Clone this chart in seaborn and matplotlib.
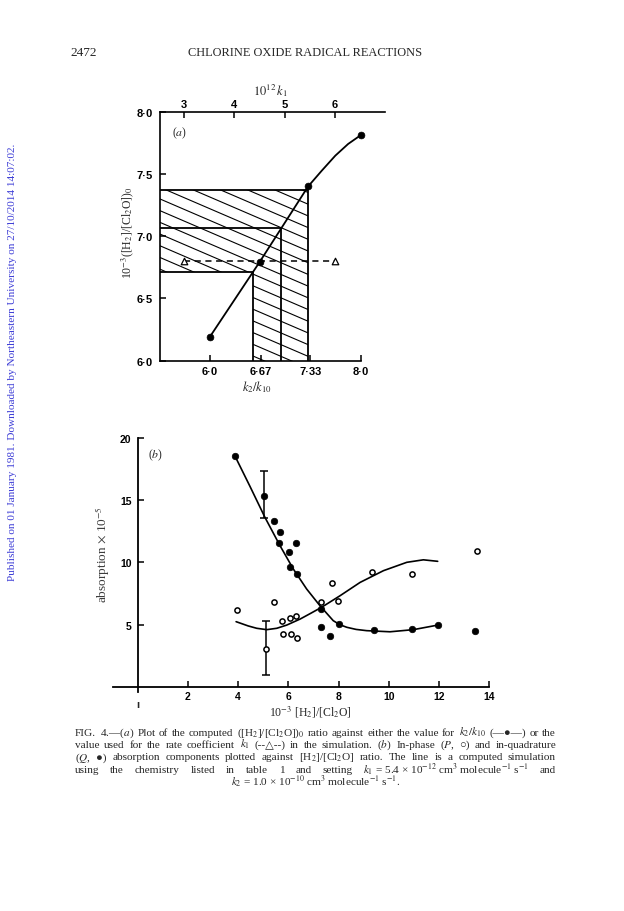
"""
Fig. 4 of the chlorine oxide radical reactions paper, redrawn with seaborn.
"""

import numpy as np
import pandas as pd
import matplotlib
matplotlib.use('Agg')
import matplotlib.pyplot as plt
from matplotlib.patches import Polygon
import seaborn as sns

# (a) computed ([H2]/[Cl2O])0 ratio against k2/k10, k1 on the top scale
k2k10 = [6.0, 6.66, 7.30, 8.0]
ratio = [6.193, 6.795, 7.40, 7.813]
curve_a_x = [6.0, 6.66, 7.30, 7.48, 7.66, 7.83, 8.0]
curve_a_y = [6.193, 6.795, 7.40, 7.526, 7.647, 7.741, 7.813]
k1_used = [3.0, 6.0]
ratio_k1 = [6.80, 6.80]
box_x = [6.572, 6.945, 7.30]
box_y = [6.715, 7.063, 7.373]

xticks_a = [6.0, 6.67, 7.33, 8.0]
xticklabels_a = ['6·0', '6·67', '7·33', '8·0']
yticks_a = [6.0, 6.5, 7.0, 7.5, 8.0]
yticklabels_a = ['6·0', '6·5', '7·0', '7·5', '8·0']
k1_ticks = [3, 4, 5, 6]

# (b) in-quadrature (Q, filled) and in-phase (P, open) absorption
q_x = [3.88, 5.05, 5.44, 5.67, 5.62, 6.29, 6.04, 6.07, 6.36, 7.30, 7.31, 7.66,
       8.02, 9.41, 10.94, 11.95, 13.43]
q_y = [18.5, 15.34, 13.34, 12.46, 11.55, 11.52, 10.8, 9.65, 9.09, 6.25, 4.84, 4.06,
       5.05, 4.57, 4.63, 4.97, 4.49]
p_x = [3.94, 5.44, 5.74, 6.07, 6.30, 5.78, 6.09, 6.36, 5.11, 7.31, 7.73, 7.97,
       9.32, 10.94, 13.5]
p_y = [6.15, 6.79, 5.29, 5.51, 5.72, 4.25, 4.22, 3.93, 3.05, 6.79, 8.34, 6.87,
       9.22, 9.09, 10.9]

# computed simulation lines
qsim_x = [3.88, 4.47, 5.07, 5.67, 6.2, 6.73, 7.26, 7.79, 8.05, 8.33, 8.7, 9.12,
          10.05, 10.98, 11.91]
qsim_y = [18.5, 16.1, 13.6, 11.33, 9.46, 7.86, 6.52, 5.32, 5.0, 4.79, 4.62, 4.52,
          4.43, 4.6, 4.95]
psim_x = [3.92, 4.4, 4.74, 5.14, 5.54, 5.94, 6.47, 6.9, 7.33, 8.06, 8.86, 9.79,
          10.72, 11.38, 11.95]
psim_y = [5.24, 4.9, 4.71, 4.60, 4.71, 4.97, 5.45, 5.92, 6.4, 7.32, 8.39, 9.33,
          10.0, 10.2, 10.08]

err_x = [5.05, 5.11]
err_y = [15.34, 3.05]
err_lo = [1.81, 2.06]
err_hi = [2.01, 2.27]

xticks_b = [2, 4, 6, 8, 10, 12, 14]
yticks_b = [5, 10, 15, 20]

W, H = 624, 912


def px(x, y):
    """pixel position on the page -> figure fraction"""
    return x / W, 1 - y / H


def x_to_k1(x):
    return 3.517 + 1.5 * (np.asarray(x) - 6.0)


def k1_to_x(k):
    return 6.0 + (np.asarray(k) - 3.517) / 1.5


sns.set_theme(style='ticks')
plt.rcParams['font.family'] = ['Liberation Serif', 'DejaVu Sans']
plt.rcParams['mathtext.fontset'] = 'stix'
plt.rcParams['axes.linewidth'] = 1.2

tickfont = dict(fontfamily='Liberation Sans', fontweight='bold', fontsize=8)

fig = plt.figure(figsize=(W / 100, H / 100), dpi=100)
fig.patch.set_facecolor('white')

# ---------------- panel (a) ----------------
ax_a = fig.add_axes([160 / W, 1 - 361.7 / H, 225 / W, 249 / H])
ax_a.set_facecolor('white')
ax_a.set_xlim(5.338, 8.318)
ax_a.set_ylim(6.0, 8.0)
ax_a.spines['right'].set_visible(False)
ax_a.spines['top'].set_visible(False)
ax_a.spines['bottom'].set_bounds(5.338, 8.0)
for s in ax_a.spines.values():
    s.set_color('black')

# hatched L-shaped region
x0 = ax_a.get_xlim()[0]
hatch_poly = Polygon([(x0, box_y[0]), (x0, box_y[2]), (box_x[2], box_y[2]),
                      (box_x[2], 6.0), (box_x[0], 6.0), (box_x[0], box_y[0])],
                     closed=True, facecolor='none', edgecolor='none')
ax_a.add_patch(hatch_poly)
hx = np.array([x0, 8.318])
slope = -0.261
for c in np.arange(7.299 - 20 * 0.094, 7.299 + 40 * 0.094, 0.094):
    ln, = ax_a.plot(hx, c + slope * (hx - x0), color='black', lw=0.8)
    ln.set_clip_path(hatch_poly)

# rectangle outlines
for bx, by in zip(box_x, box_y):
    ax_a.plot([x0, bx, bx], [by, by, 6.0], color='black', lw=1.3,
              solid_joinstyle='miter')

sns.lineplot(x=curve_a_x, y=curve_a_y, ax=ax_a, color='black', linewidth=1.3,
             estimator=None, sort=False)
sns.scatterplot(x=k2k10, y=ratio, ax=ax_a, color='black', s=24,
                edgecolor='black', linewidth=0.5, zorder=4)

k1_pos = k1_to_x(k1_used)
ax_a.plot(k1_pos, ratio_k1, color='black', lw=1.1, ls=(0, (4, 3)))
sns.scatterplot(x=k1_pos, y=ratio_k1, ax=ax_a, marker='^', s=22, color='white',
                edgecolor='black', linewidth=0.9, zorder=4)

ax_a.set_xticks(xticks_a, xticklabels_a, **tickfont)
ax_a.set_yticks(yticks_a, yticklabels_a, **tickfont)
ax_a.tick_params(axis='x', direction='in', length=4, width=1.1, pad=4, colors='black')
ax_a.tick_params(axis='y', direction='in', length=4, width=1.1, pad=5, colors='black')
ax_a.set_xlabel('')
ax_a.set_ylabel('')

secax = ax_a.secondary_xaxis('top', functions=(x_to_k1, k1_to_x))
secax.set_xticks(k1_ticks, [str(k) for k in k1_ticks], **tickfont)
secax.tick_params(direction='in', length=4, width=1.1, pad=2, colors='black')
secax.spines['top'].set_linewidth(1.2)
secax.spines['top'].set_color('black')

fig.text(*px(270, 91), r'$10^{12}\,k_1$', ha='center', va='center', fontsize=9)
fig.text(*px(180, 133), r'($a$)', ha='center', va='center', fontsize=8.5)
fig.text(*px(257, 387), r'$k_2/k_{10}$', ha='center', va='center', fontsize=9)
fig.text(*px(128, 233), r'10$^{-3}$([H$_2$]/[Cl$_2$O])$_0$', ha='center', va='center',
         rotation=90, fontsize=8.5)

# ---------------- panel (b) ----------------
ax_b = fig.add_axes([112.6 / W, 1 - 700.5 / H, 377.8 / W, 261.9 / H])
ax_b.set_facecolor('white')
ax_b.set_xlim(-1, 14.05)
ax_b.set_ylim(-1, 20)
ax_b.spines['right'].set_visible(False)
ax_b.spines['top'].set_visible(False)
ax_b.spines['left'].set_position(('data', 0))
ax_b.spines['bottom'].set_position(('data', 0))
ax_b.spines['left'].set_bounds(-0.4, 20)
ax_b.spines['bottom'].set_bounds(-1, 14)
for s in ax_b.spines.values():
    s.set_color('black')
    s.set_linewidth(1.3)

sim = pd.concat([pd.DataFrame({'x': qsim_x, 'y': qsim_y, 'comp': 'Q'}),
                 pd.DataFrame({'x': psim_x, 'y': psim_y, 'comp': 'P'})])
for comp, grp in sim.groupby('comp'):
    sns.lineplot(data=grp, x='x', y='y', ax=ax_b, color='black', linewidth=1.2,
                 estimator=None, sort=False)

ax_b.errorbar(err_x, err_y, yerr=[err_lo, err_hi], fmt='none', ecolor='black',
              elinewidth=1.1, capsize=3, capthick=1.1, zorder=2)
sns.scatterplot(x=q_x, y=q_y, ax=ax_b, color='black', s=22, edgecolor='black',
                linewidth=0.5, zorder=4)
sns.scatterplot(x=p_x, y=p_y, ax=ax_b, color='white', s=14, edgecolor='black',
                linewidth=1.1, zorder=4)

bfont = dict(tickfont, fontsize=7.5)
ax_b.set_xticks(xticks_b, [str(t) for t in xticks_b], **bfont)
ax_b.set_yticks(yticks_b, [str(t) for t in yticks_b], **bfont)
ax_b.tick_params(axis='x', direction='in', length=4, width=1.1, pad=2.5, colors='black')
ax_b.tick_params(axis='y', direction='in', length=4, width=1.1, pad=4.5, colors='black')
ax_b.set_xlabel('')
ax_b.set_ylabel('')

fig.text(*px(156, 455), r'($b$)', ha='center', va='center', fontsize=8.5)
fig.text(*px(137.7, 705), 'ı', ha='center', va='center', fontsize=8,
         fontfamily='Liberation Sans', fontweight='bold')
fig.text(*px(310, 712), r'10$^{-3}$ [H$_2$]/[Cl$_2$O]', ha='center', va='center',
         fontsize=8.5)
fig.text(*px(103, 555), r'absorption $\times$ 10$^{-5}$', ha='center', va='center',
         rotation=90, fontsize=9.5, color='#3c3c3c')

# ---------------- page furniture ----------------
fig.text(*px(70, 53), '2472', ha='left', va='center', fontsize=9.5)
fig.text(*px(305, 53), 'CHLORINE OXIDE RADICAL REACTIONS', ha='center', va='center',
         fontsize=8.9)
fig.text(*px(13, 362), 'Published on 01 January 1981. Downloaded by Northeastern '
         'University on 27/10/2014 14:07:02.', rotation=90, ha='center', va='center',
         fontsize=8.1, color='#3d3dd6')

caption = [
    "FIG. 4.—($a$) Plot of the computed ([H$_2$]/[Cl$_2$O])$_0$ ratio against either "
    "the value for $k_2/k_{10}$ (—●—) or the",
    "value used for the rate coefficient $k_1$ (--△--) in the simulation. ($b$) "
    "In-phase ($P$, ○) and in-quadrature",
    "($Q$, ●) absorption components plotted against [H$_2$]/[Cl$_2$O] ratio. "
    "The line is a computed simulation",
    "using the chemistry listed in table 1 and setting "
    "$k_1$~=~5.4~×~10$^{-12}$~cm$^3$~molecule$^{-1}$~s$^{-1}$ and",
]
last_line = "$k_2$ = 1.0 × 10$^{-10}$ cm$^3$ molecule$^{-1}$ s$^{-1}$."

renderer = fig.canvas.get_renderer()
left_px, right_px = 75, 556
base_y = 735.5
line_step = 12.5
cap_size = 8.1
for i, line in enumerate(caption):
    y = base_y + i * line_step
    words = [w.replace('~', ' ') for w in line.split(' ')]
    texts = [fig.text(*px(left_px, y), w, ha='left', va='baseline', fontsize=cap_size)
             for w in words]
    widths = [t.get_window_extent(renderer).width for t in texts]
    gap = (right_px - left_px - sum(widths)) / (len(texts) - 1)
    pos = left_px
    for t, w in zip(texts, widths):
        t.set_x(pos / W)
        pos += w + gap
fig.text(*px(315.5, base_y + 4 * line_step), last_line, ha='center', va='baseline',
         fontsize=cap_size)

fig.savefig('out.png', dpi=100, facecolor='white')
